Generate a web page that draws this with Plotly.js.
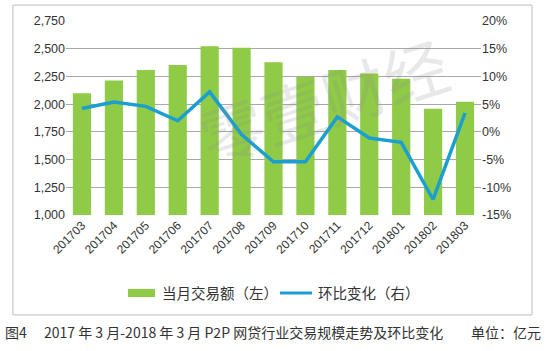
<!DOCTYPE html>
<html>
<head>
<meta charset="utf-8">
<script src="https://cdn.plot.ly/plotly-3.0.1.min.js"></script>
<style>
html,body{margin:0;padding:0;background:#fff;}
#chart{width:550px;height:351px;}
</style>
</head>
<body>
<div id="chart"></div>
<script>
var months = ['201703','201704','201705','201706','201707','201708','201709','201710','201711','201712','201801','201802','201803'];
var volume = [2098, 2214, 2309, 2354, 2523, 2508, 2378, 2246, 2309, 2277, 2228, 1958, 2021];
var momChange = [4.2, 5.4, 4.6, 2.0, 7.2, -0.5, -5.4, -5.4, 2.7, -1.1, -1.9, -12.2, 3.4];
var leftTicks = [1000, 1250, 1500, 1750, 2000, 2250, 2500, 2750];
var leftTickText = ['1,000','1,250','1,500','1,750','2,000','2,250','2,500','2,750'];
var rightTicks = [-15, -10, -5, 0, 5, 10, 15, 20];
var rightTickText = ['-15%','-10%','-5%','0%','5%','10%','15%','20%'];
var seriesNames = ['当月交易额（左）', '环比变化（右）'];

var barColor = '#8FCB47';
var lineColor = '#1A9FD0';
var cjk = '"Noto Sans CJK SC", "Noto Sans", sans-serif';
var num = '"Liberation Sans", "DejaVu Sans", sans-serif';

var traces = [
  {
    type: 'bar', x: months, y: volume, name: seriesNames[0],
    marker: {color: barColor}, yaxis: 'y', showlegend: false
  },
  {
    type: 'scatter', mode: 'lines', x: months, y: momChange, name: seriesNames[1],
    line: {color: lineColor, width: 3.5}, yaxis: 'y2', showlegend: false
  }
];

var layout = {
  width: 550, height: 351,
  margin: {l: 66, r: 69, t: 21, b: 136},
  paper_bgcolor: '#ffffff', plot_bgcolor: '#ffffff',
  showlegend: false,
  bargap: 0.43,
  font: {family: num, color: '#333333', size: 12},
  xaxis: {
    type: 'category', tickangle: -45, showgrid: false, zeroline: false,
    showline: false, ticks: '', tickfont: {family: num, size: 12, color: '#333'},
    automargin: false
  },
  yaxis: {
    range: [1000, 2750], tickvals: leftTicks, ticktext: leftTickText,
    showgrid: true, gridcolor: '#A8A8A8', gridwidth: 1, zeroline: false,
    showline: false, ticks: '', tickfont: {family: num, size: 12.5, color: '#333'},
    automargin: false
  },
  yaxis2: {
    overlaying: 'y', side: 'right', range: [-15, 20],
    tickvals: rightTicks, ticktext: rightTickText,
    showgrid: false, zeroline: false, showline: false, ticks: '',
    tickfont: {family: num, size: 12.5, color: '#333'}, automargin: false
  },
  shapes: [
    {type: 'rect', xref: 'paper', yref: 'paper', x0: -0.128, x1: 1.123, y0: -0.515, y1: 1.082,
     line: {color: '#BDBDBD', width: 1}, fillcolor: 'rgba(0,0,0,0)', layer: 'below'},
    {type: 'rect', xref: 'paper', yref: 'paper', x0: 0.1494, x1: 0.2145, y0: -0.423, y1: -0.381,
     line: {width: 0}, fillcolor: barColor},
    {type: 'line', xref: 'paper', yref: 'paper', x0: 0.5157, x1: 0.5928, y0: -0.402, y1: -0.402,
     line: {color: lineColor, width: 3}}
  ],
  annotations: [
    {xref: 'paper', yref: 'paper', x: 0.62, y: 0.6, text: '零壹财经', showarrow: false,
     textangle: -18, font: {family: cjk, size: 64, color: 'rgba(140,140,140,0.20)'}},
    {xref: 'paper', yref: 'paper', x: 0.2265, xanchor: 'left', y: -0.402, yanchor: 'middle',
     text: seriesNames[0], showarrow: false, font: {family: cjk, size: 14.5, color: '#333'}},
    {xref: 'paper', yref: 'paper', x: 0.6024, xanchor: 'left', y: -0.402, yanchor: 'middle',
     text: seriesNames[1], showarrow: false, font: {family: cjk, size: 14.5, color: '#333'}},
    {xref: 'paper', yref: 'paper', x: -0.152, xanchor: 'left', y: -0.603, yanchor: 'middle',
     text: '图4', showarrow: false, font: {family: cjk, size: 14, color: '#333'}},
    {xref: 'paper', yref: 'paper', x: -0.058, xanchor: 'left', y: -0.603, yanchor: 'middle',
     text: '2017 年 3 月-2018 年 3 月 P2P 网贷行业交易规模走势及环比变化', showarrow: false,
     font: {family: cjk, size: 14, color: '#333'}},
    {xref: 'paper', yref: 'paper', x: 1.149, xanchor: 'right', y: -0.603, yanchor: 'middle',
     text: '单位：亿元', showarrow: false,
     font: {family: cjk, size: 14, color: '#333'}}
  ]
};

Plotly.newPlot('chart', traces, layout, {displayModeBar: false, staticPlot: true});
</script>
</body>
</html>
